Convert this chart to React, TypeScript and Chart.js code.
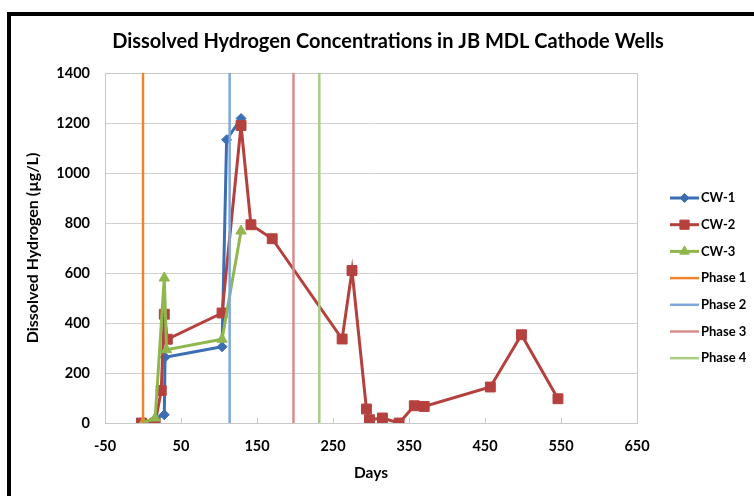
import React, { useEffect, useRef } from 'react';
import { Chart, registerables } from 'chart.js';
import { drawPoint } from 'chart.js/helpers';

Chart.register(...registerables);

// ---- text ----
const chartTitle = 'Dissolved Hydrogen Concentrations in JB MDL Cathode Wells';
const xAxisTitle = 'Days';
const yAxisTitle = 'Dissolved Hydrogen (µg/L)';

// ---- series data ----
const cw1Days = [0, 28, 29, 104, 110, 129];
const cw1Values = [0, 33, 263, 305, 1133, 1218];

const cw2Days = [-2, 16, 24, 28, 32, 104, 129, 142, 170, 262, 275, 294, 298, 315, 337, 357, 370, 457, 498, 546];
const cw2Values = [0, 0, 130, 435, 335, 440, 1190, 793, 737, 336, 610, 56, 13, 20, 0, 69, 66, 144, 353, 97];

const cw3Days = [0, 16, 28, 31, 104, 129];
const cw3Values = [0, 20, 580, 293, 335, 768];

const seriesNames = ['CW-1', 'CW-2', 'CW-3'];

// ---- phase markers (vertical lines) ----
const phaseNames = ['Phase 1', 'Phase 2', 'Phase 3', 'Phase 4'];
const phaseDays = [0, 114, 198, 232];

// ---- axes ----
const xMin = -50;
const xMax = 650;
const xStep = 100;
const yMin = 0;
const yMax = 1400;
const yStep = 200;

const FONT = 'Lato, "Open Sans", "DejaVu Sans", sans-serif';

const toPoints = (xs: number[], ys: number[]) => xs.map((x, i) => ({ x, y: ys[i] }));

const seriesStyles = [
  { color: '#3C6EB4', pointStyle: 'rectRot', radius: 5, legendRadius: 4.5 },
  { color: '#B5413F', pointStyle: 'rect', radius: 7, legendRadius: 6.5 },
  { color: '#8FB74E', pointStyle: 'triangle', radius: 6, legendRadius: 5.5 },
];
const phaseColors = ['#EE8330', '#7FA7DA', '#D98C8C', '#AACD85'];

const framePlugin = {
  id: 'plotFrame',
  beforeDatasetsDraw(chart: any) {
    const { ctx, chartArea } = chart;
    ctx.save();
    ctx.strokeStyle = '#C8C8C8';
    ctx.lineWidth = 1;
    ctx.strokeRect(
      Math.round(chartArea.left) + 0.5,
      Math.round(chartArea.top) + 0.5,
      Math.round(chartArea.right - chartArea.left),
      Math.round(chartArea.bottom - chartArea.top)
    );
    ctx.restore();
  },
};

const legendPlugin = {
  id: 'sideLegend',
  afterDraw(chart: any) {
    const { ctx, chartArea } = chart;
    const x0 = chartArea.right + 33;
    const y0 = 198;
    const gap = 26.7;
    const lineLen = 29;
    ctx.save();
    chart.data.datasets.forEach((ds: any, i: number) => {
      const y = y0 + i * gap;
      ctx.strokeStyle = ds.borderColor;
      ctx.lineWidth = ds.borderWidth;
      ctx.beginPath();
      ctx.moveTo(x0, y);
      ctx.lineTo(x0 + lineLen, y);
      ctx.stroke();
      if (ds.pointRadius > 0) {
        ctx.fillStyle = ds.pointBackgroundColor;
        ctx.strokeStyle = ds.pointBorderColor;
        ctx.lineWidth = 1;
        drawPoint(ctx, { pointStyle: ds.pointStyle, radius: ds.legendRadius, rotation: 0, borderWidth: 1 } as any, x0 + lineLen / 2, y);
      }
      ctx.fillStyle = '#000';
      ctx.font = `bold 13px ${FONT}`;
      ctx.textAlign = 'left';
      ctx.textBaseline = 'middle';
      ctx.fillText(ds.label, x0 + lineLen + 2, y);
    });
    ctx.restore();
  },
};

export default function App() {
  const ref = useRef<HTMLCanvasElement>(null);

  useEffect(() => {
    if (!ref.current) return;
    const seriesDays = [cw1Days, cw2Days, cw3Days];
    const seriesValues = [cw1Values, cw2Values, cw3Values];
    const datasets: any[] = [];
    seriesNames.forEach((name, i) => {
      const s = seriesStyles[i];
      datasets.push({
        label: name,
        data: toPoints(seriesDays[i], seriesValues[i]),
        showLine: true,
        borderColor: s.color,
        backgroundColor: s.color,
        borderWidth: 3,
        pointStyle: s.pointStyle,
        pointRadius: s.radius,
        legendRadius: s.legendRadius,
        pointBackgroundColor: s.color,
        pointBorderColor: s.color,
        pointBorderWidth: 1,
        order: 10 - i,
      });
    });
    phaseNames.forEach((name, j) => {
      datasets.push({
        label: name,
        data: [
          { x: phaseDays[j], y: yMin },
          { x: phaseDays[j], y: yMax },
        ],
        showLine: true,
        borderColor: phaseColors[j],
        backgroundColor: phaseColors[j],
        borderWidth: 2.5,
        pointRadius: 0,
        order: 10 - (j + 3),
      });
    });

    const chart = new Chart(ref.current, {
      type: 'scatter',
      data: { datasets },
      options: {
        responsive: false,
        animation: false,
        devicePixelRatio: 1,
        layout: { padding: { left: 22, right: 0, top: 0, bottom: 0 } },
        plugins: {
          legend: { display: false },
          tooltip: { enabled: false },
          title: {
            display: true,
            text: chartTitle,
            color: '#000',
            font: { family: FONT, size: 20, weight: 'bold' },
            padding: { top: 30, bottom: 19 },
          },
        },
        scales: {
          x: {
            type: 'linear',
            min: xMin,
            max: xMax,
            afterFit: (scale: any) => {
              scale.height = 73;
            },
            ticks: {
              stepSize: xStep,
              color: '#000',
              font: { family: FONT, size: 14.5, weight: 'bold' },
              padding: 20,
              maxRotation: 0,
              callback: (v: any) => String(v),
            },
            grid: {
              drawOnChartArea: false,
              color: '#C8C8C8',
              tickLength: -5,
            },
            border: { color: '#C8C8C8', width: 1 },
            title: {
              display: true,
              text: xAxisTitle,
              color: '#000',
              font: { family: FONT, size: 15.5, weight: 'bold' },
              padding: { top: 0, bottom: 14 },
            },
          },
          y: {
            type: 'linear',
            min: yMin,
            max: yMax,
            afterFit: (scale: any) => {
              scale.width = 83;
            },
            ticks: {
              stepSize: yStep,
              color: '#000',
              font: { family: FONT, size: 14.5, weight: 'bold' },
              padding: 15,
              callback: (v: any) => String(v),
            },
            grid: { color: '#D0D0D0', drawTicks: false, lineWidth: 1 },
            border: { color: '#C8C8C8', width: 1 },
            title: {
              display: true,
              text: yAxisTitle,
              color: '#000',
              font: { family: FONT, size: 16, weight: 'bold' },
              padding: { top: 1, bottom: 0 },
            },
          },
          legendSpace: {
            type: 'linear',
            position: 'right',
            min: yMin,
            max: yMax,
            afterFit: (scale: any) => {
              scale.width = 117;
            },
            ticks: { display: false },
            grid: { display: false, drawTicks: false },
            border: { display: false },
            title: { display: false },
          },
        },
      } as any,
      plugins: [framePlugin, legendPlugin],
    });
    return () => chart.destroy();
  }, []);

  return (
    <div
      style={{
        position: 'fixed',
        left: 0,
        top: 0,
        width: 754,
        height: 496,
        background: '#fff',
        overflow: 'hidden',
      }}
    >
      <canvas
        ref={ref}
        width={754}
        height={496}
        style={{ position: 'absolute', left: 0, top: 0, width: 754, height: 496, display: 'block' }}
      />
      <div
        style={{
          position: 'absolute',
          left: 7,
          top: 12,
          width: 800,
          height: 600,
          borderLeft: '4px solid #000',
          borderTop: '4px solid #000',
          pointerEvents: 'none',
        }}
      />
    </div>
  );
}
